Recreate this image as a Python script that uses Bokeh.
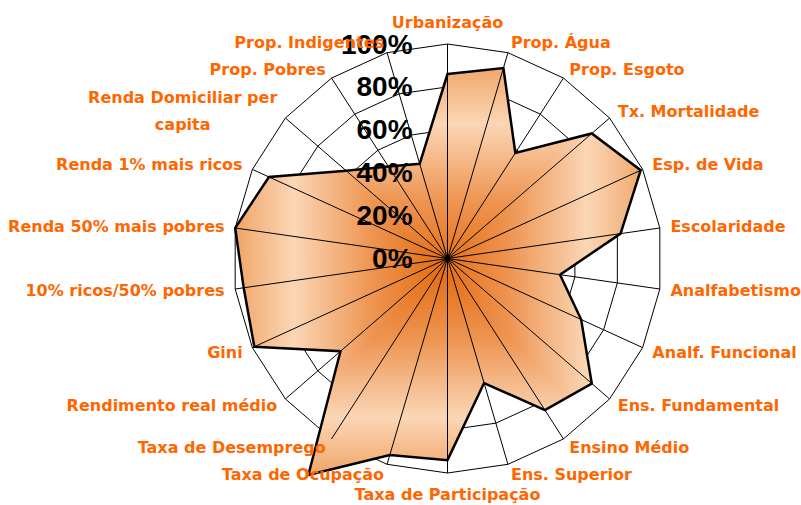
import numpy as np
from bokeh.plotting import figure
from bokeh.models import ColumnDataSource, Range1d
from bokeh.embed import file_html
from bokeh.resources import INLINE
from bokeh.core.properties import value

# ---------------- data ----------------
categories = [
    "Urbanização", "Prop. Água", "Prop. Esgoto", "Tx. Mortalidade", "Esp. de Vida",
    "Escolaridade", "Analfabetismo", "Analf. Funcional", "Ens. Fundamental",
    "Ensino Médio", "Ens. Superior", "Taxa de Participação", "Taxa de Ocupação",
    "Taxa de Desemprego", "Rendimento real médio", "Gini", "10% ricos/50% pobres",
    "Renda 50% mais pobres", "Renda 1% mais ricos", "Renda Domiciliar per\ncapita",
    "Prop. Pobres", "Prop. Indigentes",
]
values = [86, 92.5, 58.5, 89, 99, 81.5, 53, 68.5, 89, 84, 60.5, 94, 95.5, 120,
          66, 99, 96, 100, 91.5, 62.5, 51, 46]
tick_values = [0, 20, 40, 60, 80, 100]
tick_labels = ["0%", "20%", "40%", "60%", "80%", "100%"]

# ---------------- geometry ----------------
W, H = 801, 505
scale = 2.145            # px per unit (1 unit = 1 %)
cx_px, cy_px = 447, 258  # centre inside canvas
x0 = -cx_px / scale
y1 = cy_px / scale

n = len(categories)
theta = np.arange(n) * 2 * np.pi / n
sx, sy = np.sin(theta), np.cos(theta)

p = figure(width=W, height=H, output_backend="svg", toolbar_location=None,
           x_range=Range1d(x0, x0 + W / scale), y_range=Range1d(y1 - H / scale, y1),
           min_border=0)
p.axis.visible = False
p.grid.visible = False
p.outline_line_color = None
p.background_fill_color = "white"
p.border_fill_color = "white"

# ring grid (polygons)
rx, ry = [], []
for tv in tick_values[1:]:
    rx.append(list(tv * sx) + [tv * sx[0]])
    ry.append(list(tv * sy) + [tv * sy[0]])
p.multi_line(rx, ry, line_color="black", line_width=1)

# data polygon
vals = np.array(values, dtype=float)
px = vals * sx
py = vals * sy


def clip(pts, xmin, xmax, ymin, ymax):
    def clip_edge(points, inside, inter):
        out = []
        if not points:
            return out
        prev = points[-1]
        for cur in points:
            if inside(cur):
                if not inside(prev):
                    out.append(inter(prev, cur))
                out.append(cur)
            elif inside(prev):
                out.append(inter(prev, cur))
            prev = cur
        return out

    def ix(a, b, xv):
        t = (xv - a[0]) / (b[0] - a[0])
        return (xv, a[1] + t * (b[1] - a[1]))

    def iy(a, b, yv):
        t = (yv - a[1]) / (b[1] - a[1])
        return (a[0] + t * (b[0] - a[0]), yv)

    pts = clip_edge(pts, lambda q: q[0] >= xmin, lambda a, b: ix(a, b, xmin))
    pts = clip_edge(pts, lambda q: q[0] <= xmax, lambda a, b: ix(a, b, xmax))
    pts = clip_edge(pts, lambda q: q[1] >= ymin, lambda a, b: iy(a, b, ymin))
    pts = clip_edge(pts, lambda q: q[1] <= ymax, lambda a, b: iy(a, b, ymax))
    return pts


stops = [(0.0, (228, 108, 16)), (0.35, (238, 150, 84)), (0.72, (251, 214, 182)),
         (1.0, (240, 166, 104)), (1.3, (236, 150, 80))]


def colour(t):
    for (t0, c0), (t1, c1) in zip(stops[:-1], stops[1:]):
        if t <= t1:
            f = (t - t0) / (t1 - t0)
            c = [round(a + f * (b - a)) for a, b in zip(c0, c1)]
            return "#%02x%02x%02x" % tuple(c)
    return "#%02x%02x%02x" % stops[-1][1]


gx, gy = -3.3, -5.6
S = 96.0
poly = list(zip(px, py))
hmax = max(max(abs(a - gx), abs(b - gy)) for a, b in poly)
N = 70
xs_l, ys_l, cols = [], [], []
for k in range(N):
    h = hmax * (N - k) / N
    cp = clip(poly, gx - h, gx + h, gy - h, gy + h)
    if len(cp) < 3:
        continue
    xs_l.append([q[0] for q in cp])
    ys_l.append([q[1] for q in cp])
    cols.append(colour(h / S))
p.patches(xs_l, ys_l, fill_color=cols, line_color=None)

# spokes
p.segment(x0=np.zeros(n), y0=np.zeros(n), x1=100 * sx, y1=100 * sy,
          line_color="black", line_width=1)
p.scatter([0], [0], size=5, color="black")

# outline
p.patch(list(px), list(py), fill_color=None, line_color="black", line_width=2.5,
        line_join="miter")

# tick labels
tsrc = ColumnDataSource(dict(x=[-16.3] * len(tick_values), y=tick_values, t=tick_labels))
p.text(x="x", y="y", text="t", source=tsrc, text_align="right", text_baseline="middle",
       text_font=value("Liberation Sans"), text_font_style="bold",
       text_font_size="28px", text_color="black")

# category labels
lx, ly, lt, la = [], [], [], []
for i, c in enumerate(categories):
    if "\n" in c:
        continue
    s_, c_ = sx[i], sy[i]
    if abs(s_) < 0.01:
        r = 110.0
        lx.append(0.0)
        ly.append(r * np.sign(c_))
        la.append("center")
    else:
        r = 105.0
        lx.append(r * s_)
        ly.append(r * c_)
        la.append("left" if s_ > 0 else "right")
    lt.append(c)
lsrc = ColumnDataSource(dict(x=lx, y=ly, t=lt, a=la))
p.text(x="x", y="y", text="t", source=lsrc, text_align="a", text_baseline="middle",
       text_font=value("DejaVu Sans"), text_font_style="bold",
       text_font_size="16px", text_color="#FF6600")

for i, c in enumerate(categories):
    if "\n" in c:
        p.text(x=[105.0 * sx[i]], y=[105.0 * sy[i]], text=[c], text_align="center",
               anchor="center_right", text_baseline="middle",
               text_font=value("DejaVu Sans"), text_font_style="bold",
               text_font_size="16px", text_color="#FF6600", text_line_height=1.4)

open("out.html", "w").write(file_html(p, INLINE))
